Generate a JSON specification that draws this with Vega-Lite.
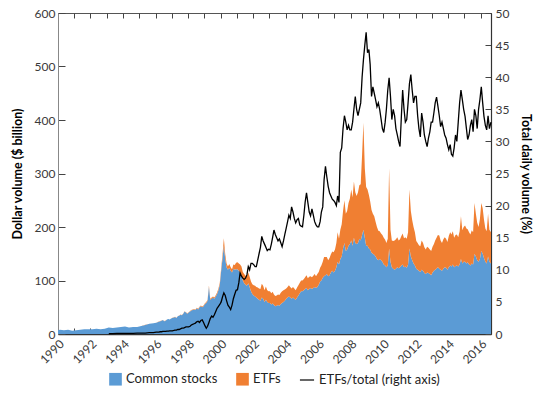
{
  "$schema": "https://vega.github.io/schema/vega-lite/v6.json",
  "width": 433,
  "height": 321,
  "autosize": {"type": "none"},
  "padding": {"left": 58, "top": 13, "right": 42, "bottom": 62},
  "background": "white",
  "config": {
    "font": "Lato",
    "view": {"stroke": "#555555", "strokeWidth": 1},
    "axis": {"labelFont": "Lato", "labelFontSize": 12, "labelColor": "#3a3a3a", "titleFont": "Lato", "titleFontSize": 12.5, "titleFontWeight": "bold", "titleColor": "#000000", "grid": false, "tickColor": "#444444", "domainColor": "#555555"},
    "legend": {"orient": "bottom", "labelFont": "Lato", "labelFontSize": 13, "labelColor": "#222222", "offset": 6, "columnPadding": 18,
      "layout": {"bottom": {"anchor": "middle", "direction": "horizontal", "center": true, "margin": 18}}}
  },
  "data": {"values": [
    {"d":"1990-01-01","Common stocks":7,"ETFs":0},
    {"d":"1990-02-15","Common stocks":8,"ETFs":0},
    {"d":"1990-05-15","Common stocks":7,"ETFs":0},
    {"d":"1990-08-15","Common stocks":8,"ETFs":0},
    {"d":"1990-11-15","Common stocks":6,"ETFs":0},
    {"d":"1991-02-15","Common stocks":7,"ETFs":0},
    {"d":"1991-05-15","Common stocks":8,"ETFs":0},
    {"d":"1991-08-15","Common stocks":9,"ETFs":0},
    {"d":"1991-11-15","Common stocks":9,"ETFs":0},
    {"d":"1992-02-15","Common stocks":9,"ETFs":0},
    {"d":"1992-05-15","Common stocks":10,"ETFs":0},
    {"d":"1992-08-15","Common stocks":9,"ETFs":0},
    {"d":"1992-11-15","Common stocks":10,"ETFs":0},
    {"d":"1993-02-15","Common stocks":12,"ETFs":0.05,"r":0.05},
    {"d":"1993-05-15","Common stocks":11,"ETFs":0.05,"r":0.05},
    {"d":"1993-08-15","Common stocks":12,"ETFs":0.05,"r":0.1},
    {"d":"1993-11-15","Common stocks":13,"ETFs":0.05,"r":0.1},
    {"d":"1994-02-15","Common stocks":14,"ETFs":0.1,"r":0.1},
    {"d":"1994-05-15","Common stocks":12,"ETFs":0.1,"r":0.1},
    {"d":"1994-08-15","Common stocks":13,"ETFs":0.1,"r":0.1},
    {"d":"1994-11-15","Common stocks":13,"ETFs":0.1,"r":0.15},
    {"d":"1995-02-15","Common stocks":15,"ETFs":0.15,"r":0.15},
    {"d":"1995-05-15","Common stocks":17,"ETFs":0.15,"r":0.15},
    {"d":"1995-08-15","Common stocks":19,"ETFs":0.15,"r":0.2},
    {"d":"1995-11-15","Common stocks":20,"ETFs":0.15,"r":0.2},
    {"d":"1996-01-15","Common stocks":21,"ETFs":0.2,"r":0.3},
    {"d":"1996-02-15","Common stocks":22,"ETFs":0.2,"r":0.3},
    {"d":"1996-03-15","Common stocks":23,"ETFs":0.2,"r":0.3},
    {"d":"1996-04-15","Common stocks":24,"ETFs":0.2,"r":0.35},
    {"d":"1996-05-15","Common stocks":25,"ETFs":0.2,"r":0.35},
    {"d":"1996-06-15","Common stocks":26,"ETFs":0.2,"r":0.4},
    {"d":"1996-07-15","Common stocks":24,"ETFs":0.2,"r":0.4},
    {"d":"1996-08-15","Common stocks":25,"ETFs":0.2,"r":0.4},
    {"d":"1996-09-15","Common stocks":27,"ETFs":0.2,"r":0.45},
    {"d":"1996-10-15","Common stocks":28,"ETFs":0.2,"r":0.45},
    {"d":"1996-11-15","Common stocks":27,"ETFs":0.2,"r":0.5},
    {"d":"1996-12-15","Common stocks":29,"ETFs":0.2,"r":0.5},
    {"d":"1997-01-15","Common stocks":30,"ETFs":0.3,"r":0.5},
    {"d":"1997-02-15","Common stocks":31,"ETFs":0.3,"r":0.55},
    {"d":"1997-03-15","Common stocks":32,"ETFs":0.3,"r":0.6},
    {"d":"1997-04-15","Common stocks":30,"ETFs":0.4,"r":0.6},
    {"d":"1997-05-15","Common stocks":33,"ETFs":0.4,"r":0.7},
    {"d":"1997-06-15","Common stocks":34,"ETFs":0.4,"r":0.7},
    {"d":"1997-07-15","Common stocks":36,"ETFs":0.5,"r":0.8},
    {"d":"1997-08-15","Common stocks":35,"ETFs":0.5,"r":0.9},
    {"d":"1997-09-15","Common stocks":38,"ETFs":0.5,"r":0.9},
    {"d":"1997-10-15","Common stocks":42,"ETFs":0.6,"r":1.0},
    {"d":"1997-11-15","Common stocks":40,"ETFs":0.6,"r":1.1},
    {"d":"1997-12-15","Common stocks":38,"ETFs":0.6,"r":1.1},
    {"d":"1998-01-15","Common stocks":40,"ETFs":0.7,"r":1.1},
    {"d":"1998-02-15","Common stocks":42,"ETFs":0.8,"r":1.2},
    {"d":"1998-03-15","Common stocks":44,"ETFs":0.8,"r":1.4},
    {"d":"1998-04-15","Common stocks":45,"ETFs":0.9,"r":1.5},
    {"d":"1998-05-15","Common stocks":46,"ETFs":0.9,"r":1.6},
    {"d":"1998-06-15","Common stocks":45,"ETFs":1.0,"r":1.7},
    {"d":"1998-07-15","Common stocks":48,"ETFs":1.0,"r":1.9},
    {"d":"1998-08-15","Common stocks":46,"ETFs":1.1,"r":2.0},
    {"d":"1998-09-15","Common stocks":50,"ETFs":1.1,"r":1.8},
    {"d":"1998-10-15","Common stocks":52,"ETFs":1.2,"r":2.1},
    {"d":"1998-11-15","Common stocks":50,"ETFs":1.2,"r":2.2},
    {"d":"1998-12-15","Common stocks":52,"ETFs":1.3,"r":1.8},
    {"d":"1999-01-15","Common stocks":56,"ETFs":1.5,"r":1.3},
    {"d":"1999-02-15","Common stocks":58,"ETFs":1.6,"r":0.9},
    {"d":"1999-03-15","Common stocks":62,"ETFs":1.8,"r":1.2},
    {"d":"1999-04-15","Common stocks":88,"ETFs":2.5,"r":1.8},
    {"d":"1999-05-15","Common stocks":64,"ETFs":2.0,"r":2.4},
    {"d":"1999-06-15","Common stocks":66,"ETFs":2.2,"r":2.8},
    {"d":"1999-07-15","Common stocks":68,"ETFs":2.3,"r":2.6},
    {"d":"1999-08-15","Common stocks":66,"ETFs":2.4,"r":3.0},
    {"d":"1999-09-15","Common stocks":70,"ETFs":2.5,"r":3.5},
    {"d":"1999-10-15","Common stocks":75,"ETFs":2.8,"r":4.0},
    {"d":"1999-11-15","Common stocks":82,"ETFs":3.0,"r":4.3},
    {"d":"1999-12-15","Common stocks":92,"ETFs":4.0,"r":4.6},
    {"d":"2000-01-15","Common stocks":118,"ETFs":5,"r":5.0},
    {"d":"2000-02-15","Common stocks":142,"ETFs":7,"r":5.8},
    {"d":"2000-03-15","Common stocks":165,"ETFs":14,"r":6.4},
    {"d":"2000-04-15","Common stocks":140,"ETFs":9,"r":6.0},
    {"d":"2000-05-15","Common stocks":125,"ETFs":7,"r":5.2},
    {"d":"2000-06-15","Common stocks":120,"ETFs":6,"r":4.5},
    {"d":"2000-07-15","Common stocks":124,"ETFs":7,"r":4.2},
    {"d":"2000-08-15","Common stocks":118,"ETFs":7,"r":3.8},
    {"d":"2000-09-15","Common stocks":115,"ETFs":6,"r":4.5},
    {"d":"2000-10-15","Common stocks":122,"ETFs":8,"r":5.5},
    {"d":"2000-11-15","Common stocks":120,"ETFs":9,"r":6.2},
    {"d":"2000-12-15","Common stocks":121,"ETFs":12,"r":6.8},
    {"d":"2001-01-15","Common stocks":121,"ETFs":13,"r":6.9},
    {"d":"2001-02-15","Common stocks":118,"ETFs":14,"r":8.0},
    {"d":"2001-03-15","Common stocks":115,"ETFs":15,"r":9.5},
    {"d":"2001-04-15","Common stocks":110,"ETFs":16,"r":9.0},
    {"d":"2001-05-15","Common stocks":100,"ETFs":16,"r":8.7},
    {"d":"2001-06-15","Common stocks":95,"ETFs":17,"r":8.5},
    {"d":"2001-07-15","Common stocks":92,"ETFs":17,"r":8.7},
    {"d":"2001-08-15","Common stocks":90,"ETFs":18,"r":9.2},
    {"d":"2001-09-15","Common stocks":95,"ETFs":20,"r":10.5},
    {"d":"2001-10-15","Common stocks":88,"ETFs":19,"r":10.0},
    {"d":"2001-11-15","Common stocks":80,"ETFs":18,"r":11.0},
    {"d":"2001-12-15","Common stocks":75,"ETFs":18,"r":11.0},
    {"d":"2002-01-15","Common stocks":72,"ETFs":19,"r":10.8},
    {"d":"2002-02-15","Common stocks":70,"ETFs":20,"r":10.5},
    {"d":"2002-03-15","Common stocks":68,"ETFs":20,"r":10.5},
    {"d":"2002-04-15","Common stocks":66,"ETFs":21,"r":11.5},
    {"d":"2002-05-15","Common stocks":64,"ETFs":21,"r":12.5},
    {"d":"2002-06-15","Common stocks":62,"ETFs":22,"r":13.5},
    {"d":"2002-07-15","Common stocks":68,"ETFs":26,"r":15.2},
    {"d":"2002-08-15","Common stocks":66,"ETFs":24,"r":14.5},
    {"d":"2002-09-15","Common stocks":60,"ETFs":22,"r":14.0},
    {"d":"2002-10-15","Common stocks":64,"ETFs":25,"r":13.5},
    {"d":"2002-11-15","Common stocks":60,"ETFs":22,"r":13.0},
    {"d":"2002-12-15","Common stocks":58,"ETFs":22,"r":13.2},
    {"d":"2003-01-15","Common stocks":58,"ETFs":22,"r":13.1},
    {"d":"2003-02-15","Common stocks":55,"ETFs":21,"r":14.0},
    {"d":"2003-03-15","Common stocks":57,"ETFs":22,"r":15.0},
    {"d":"2003-04-15","Common stocks":54,"ETFs":20,"r":16.2},
    {"d":"2003-05-15","Common stocks":52,"ETFs":19,"r":15.5},
    {"d":"2003-06-15","Common stocks":53,"ETFs":19,"r":15.0},
    {"d":"2003-07-15","Common stocks":54,"ETFs":20,"r":14.5},
    {"d":"2003-08-15","Common stocks":53,"ETFs":20,"r":14.8},
    {"d":"2003-09-15","Common stocks":56,"ETFs":21,"r":14.2},
    {"d":"2003-10-15","Common stocks":58,"ETFs":22,"r":13.6},
    {"d":"2003-11-15","Common stocks":60,"ETFs":22,"r":14.5},
    {"d":"2003-12-15","Common stocks":62,"ETFs":21,"r":15.5},
    {"d":"2004-01-15","Common stocks":66,"ETFs":19,"r":16.5},
    {"d":"2004-02-15","Common stocks":68,"ETFs":20,"r":17.5},
    {"d":"2004-03-15","Common stocks":70,"ETFs":21,"r":18.5},
    {"d":"2004-04-15","Common stocks":68,"ETFs":20,"r":18.0},
    {"d":"2004-05-15","Common stocks":66,"ETFs":19,"r":19.8},
    {"d":"2004-06-15","Common stocks":68,"ETFs":20,"r":19.0},
    {"d":"2004-07-15","Common stocks":66,"ETFs":19,"r":18.0},
    {"d":"2004-08-15","Common stocks":64,"ETFs":18,"r":17.3},
    {"d":"2004-09-15","Common stocks":68,"ETFs":19,"r":17.8},
    {"d":"2004-10-15","Common stocks":72,"ETFs":19,"r":18.0},
    {"d":"2004-11-15","Common stocks":76,"ETFs":20,"r":17.0},
    {"d":"2004-12-15","Common stocks":80,"ETFs":20,"r":16.8},
    {"d":"2005-01-15","Common stocks":80,"ETFs":20,"r":16.7},
    {"d":"2005-02-15","Common stocks":82,"ETFs":21,"r":18.5},
    {"d":"2005-03-15","Common stocks":84,"ETFs":22,"r":20.5},
    {"d":"2005-04-15","Common stocks":86,"ETFs":24,"r":22.0},
    {"d":"2005-05-15","Common stocks":82,"ETFs":22,"r":20.5},
    {"d":"2005-06-15","Common stocks":84,"ETFs":23,"r":19.0},
    {"d":"2005-07-15","Common stocks":86,"ETFs":22,"r":18.4},
    {"d":"2005-08-15","Common stocks":84,"ETFs":22,"r":19.5},
    {"d":"2005-09-15","Common stocks":86,"ETFs":23,"r":18.5},
    {"d":"2005-10-15","Common stocks":88,"ETFs":24,"r":17.5},
    {"d":"2005-11-15","Common stocks":86,"ETFs":22,"r":17.0},
    {"d":"2005-12-15","Common stocks":88,"ETFs":24,"r":16.7},
    {"d":"2006-01-15","Common stocks":92,"ETFs":24,"r":16.7},
    {"d":"2006-02-15","Common stocks":98,"ETFs":26,"r":17.5},
    {"d":"2006-03-15","Common stocks":100,"ETFs":28,"r":19.0},
    {"d":"2006-04-15","Common stocks":105,"ETFs":30,"r":19.8},
    {"d":"2006-05-15","Common stocks":108,"ETFs":36,"r":24.0},
    {"d":"2006-06-15","Common stocks":110,"ETFs":34,"r":26.1},
    {"d":"2006-07-15","Common stocks":112,"ETFs":32,"r":24.5},
    {"d":"2006-08-15","Common stocks":108,"ETFs":30,"r":23.0},
    {"d":"2006-09-15","Common stocks":110,"ETFs":32,"r":22.0},
    {"d":"2006-10-15","Common stocks":115,"ETFs":34,"r":21.5},
    {"d":"2006-11-15","Common stocks":118,"ETFs":36,"r":21.0},
    {"d":"2006-12-15","Common stocks":115,"ETFs":38,"r":20.8},
    {"d":"2007-01-15","Common stocks":118,"ETFs":40,"r":20.5},
    {"d":"2007-02-15","Common stocks":125,"ETFs":45,"r":20.0},
    {"d":"2007-03-15","Common stocks":135,"ETFs":55,"r":21.5},
    {"d":"2007-04-15","Common stocks":130,"ETFs":48,"r":20.5},
    {"d":"2007-05-15","Common stocks":140,"ETFs":55,"r":28.3},
    {"d":"2007-06-15","Common stocks":145,"ETFs":60,"r":29.0},
    {"d":"2007-07-15","Common stocks":160,"ETFs":70,"r":32.0},
    {"d":"2007-08-15","Common stocks":170,"ETFs":80,"r":34.0},
    {"d":"2007-09-15","Common stocks":155,"ETFs":70,"r":33.0},
    {"d":"2007-10-15","Common stocks":158,"ETFs":72,"r":31.8},
    {"d":"2007-11-15","Common stocks":165,"ETFs":80,"r":32.5},
    {"d":"2007-12-15","Common stocks":168,"ETFs":85,"r":31.8},
    {"d":"2008-01-15","Common stocks":175,"ETFs":95,"r":31.8},
    {"d":"2008-02-15","Common stocks":165,"ETFs":90,"r":33.0},
    {"d":"2008-03-15","Common stocks":180,"ETFs":105,"r":35.0},
    {"d":"2008-04-15","Common stocks":170,"ETFs":95,"r":37.0},
    {"d":"2008-05-15","Common stocks":168,"ETFs":90,"r":35.0},
    {"d":"2008-06-15","Common stocks":170,"ETFs":95,"r":34.0},
    {"d":"2008-07-15","Common stocks":178,"ETFs":100,"r":35.0},
    {"d":"2008-08-15","Common stocks":175,"ETFs":105,"r":36.0},
    {"d":"2008-09-15","Common stocks":185,"ETFs":150,"r":40.0},
    {"d":"2008-10-15","Common stocks":195,"ETFs":200,"r":42.7},
    {"d":"2008-11-15","Common stocks":180,"ETFs":130,"r":45.0},
    {"d":"2008-12-15","Common stocks":165,"ETFs":110,"r":47.0},
    {"d":"2009-01-15","Common stocks":165,"ETFs":105,"r":43.8},
    {"d":"2009-02-15","Common stocks":160,"ETFs":100,"r":44.3},
    {"d":"2009-03-15","Common stocks":158,"ETFs":90,"r":42.0},
    {"d":"2009-04-15","Common stocks":152,"ETFs":80,"r":37.0},
    {"d":"2009-05-15","Common stocks":150,"ETFs":75,"r":38.5},
    {"d":"2009-06-15","Common stocks":148,"ETFs":72,"r":37.5},
    {"d":"2009-07-15","Common stocks":145,"ETFs":65,"r":36.5},
    {"d":"2009-08-15","Common stocks":140,"ETFs":60,"r":35.4},
    {"d":"2009-09-15","Common stocks":138,"ETFs":55,"r":36.0},
    {"d":"2009-10-15","Common stocks":140,"ETFs":52,"r":35.0},
    {"d":"2009-11-15","Common stocks":138,"ETFs":50,"r":33.5},
    {"d":"2009-12-15","Common stocks":135,"ETFs":50,"r":32.0},
    {"d":"2010-01-15","Common stocks":130,"ETFs":50,"r":31.4},
    {"d":"2010-02-15","Common stocks":128,"ETFs":48,"r":33.0},
    {"d":"2010-03-15","Common stocks":125,"ETFs":45,"r":35.0},
    {"d":"2010-04-15","Common stocks":128,"ETFs":50,"r":38.0},
    {"d":"2010-05-15","Common stocks":160,"ETFs":150,"r":39.9},
    {"d":"2010-06-15","Common stocks":135,"ETFs":60,"r":37.0},
    {"d":"2010-07-15","Common stocks":125,"ETFs":50,"r":33.4},
    {"d":"2010-08-15","Common stocks":122,"ETFs":52,"r":35.0},
    {"d":"2010-09-15","Common stocks":120,"ETFs":55,"r":34.0},
    {"d":"2010-10-15","Common stocks":122,"ETFs":55,"r":32.0},
    {"d":"2010-11-15","Common stocks":125,"ETFs":56,"r":31.0},
    {"d":"2010-12-15","Common stocks":123,"ETFs":52,"r":30.0},
    {"d":"2011-01-15","Common stocks":125,"ETFs":52,"r":29.2},
    {"d":"2011-02-15","Common stocks":128,"ETFs":55,"r":34.0},
    {"d":"2011-03-15","Common stocks":130,"ETFs":58,"r":38.0},
    {"d":"2011-04-15","Common stocks":125,"ETFs":54,"r":35.0},
    {"d":"2011-05-15","Common stocks":126,"ETFs":55,"r":33.0},
    {"d":"2011-06-15","Common stocks":124,"ETFs":54,"r":33.4},
    {"d":"2011-07-15","Common stocks":130,"ETFs":60,"r":36.0},
    {"d":"2011-08-15","Common stocks":160,"ETFs":110,"r":39.0},
    {"d":"2011-09-15","Common stocks":145,"ETFs":85,"r":40.4},
    {"d":"2011-10-15","Common stocks":138,"ETFs":75,"r":38.0},
    {"d":"2011-11-15","Common stocks":132,"ETFs":68,"r":36.0},
    {"d":"2011-12-15","Common stocks":128,"ETFs":62,"r":37.0},
    {"d":"2012-01-15","Common stocks":122,"ETFs":52,"r":37.0},
    {"d":"2012-02-15","Common stocks":120,"ETFs":50,"r":34.0},
    {"d":"2012-03-15","Common stocks":118,"ETFs":48,"r":32.0},
    {"d":"2012-04-15","Common stocks":116,"ETFs":48,"r":30.7},
    {"d":"2012-05-15","Common stocks":120,"ETFs":55,"r":34.4},
    {"d":"2012-06-15","Common stocks":118,"ETFs":52,"r":33.0},
    {"d":"2012-07-15","Common stocks":114,"ETFs":48,"r":31.0},
    {"d":"2012-08-15","Common stocks":112,"ETFs":46,"r":30.0},
    {"d":"2012-09-15","Common stocks":115,"ETFs":48,"r":29.2},
    {"d":"2012-10-15","Common stocks":114,"ETFs":47,"r":30.5},
    {"d":"2012-11-15","Common stocks":112,"ETFs":46,"r":31.5},
    {"d":"2012-12-15","Common stocks":110,"ETFs":45,"r":33.0},
    {"d":"2013-01-15","Common stocks":115,"ETFs":48,"r":33.0},
    {"d":"2013-02-15","Common stocks":118,"ETFs":50,"r":34.5},
    {"d":"2013-03-15","Common stocks":120,"ETFs":55,"r":36.0},
    {"d":"2013-04-15","Common stocks":122,"ETFs":58,"r":36.9},
    {"d":"2013-05-15","Common stocks":125,"ETFs":60,"r":35.5},
    {"d":"2013-06-15","Common stocks":122,"ETFs":62,"r":34.0},
    {"d":"2013-07-15","Common stocks":120,"ETFs":55,"r":32.3},
    {"d":"2013-08-15","Common stocks":118,"ETFs":52,"r":33.0},
    {"d":"2013-09-15","Common stocks":122,"ETFs":55,"r":32.0},
    {"d":"2013-10-15","Common stocks":125,"ETFs":56,"r":31.0},
    {"d":"2013-11-15","Common stocks":124,"ETFs":54,"r":30.5},
    {"d":"2013-12-15","Common stocks":120,"ETFs":52,"r":29.5},
    {"d":"2014-01-15","Common stocks":125,"ETFs":58,"r":28.7},
    {"d":"2014-02-15","Common stocks":128,"ETFs":62,"r":29.5},
    {"d":"2014-03-15","Common stocks":126,"ETFs":60,"r":28.0},
    {"d":"2014-04-15","Common stocks":130,"ETFs":62,"r":27.7},
    {"d":"2014-05-15","Common stocks":125,"ETFs":55,"r":29.0},
    {"d":"2014-06-15","Common stocks":127,"ETFs":58,"r":31.0},
    {"d":"2014-07-15","Common stocks":128,"ETFs":58,"r":30.0},
    {"d":"2014-08-15","Common stocks":126,"ETFs":55,"r":33.0},
    {"d":"2014-09-15","Common stocks":130,"ETFs":62,"r":36.0},
    {"d":"2014-10-15","Common stocks":140,"ETFs":80,"r":38.0},
    {"d":"2014-11-15","Common stocks":132,"ETFs":62,"r":36.5},
    {"d":"2014-12-15","Common stocks":135,"ETFs":65,"r":35.0},
    {"d":"2015-01-15","Common stocks":135,"ETFs":68,"r":33.9},
    {"d":"2015-02-15","Common stocks":132,"ETFs":65,"r":32.0},
    {"d":"2015-03-15","Common stocks":134,"ETFs":62,"r":30.3},
    {"d":"2015-04-15","Common stocks":130,"ETFs":60,"r":31.0},
    {"d":"2015-05-15","Common stocks":128,"ETFs":58,"r":32.5},
    {"d":"2015-06-15","Common stocks":132,"ETFs":62,"r":33.4},
    {"d":"2015-07-15","Common stocks":130,"ETFs":60,"r":31.5},
    {"d":"2015-08-15","Common stocks":150,"ETFs":95,"r":35.0},
    {"d":"2015-09-15","Common stocks":145,"ETFs":80,"r":34.0},
    {"d":"2015-10-15","Common stocks":138,"ETFs":70,"r":32.0},
    {"d":"2015-11-15","Common stocks":135,"ETFs":65,"r":35.0},
    {"d":"2015-12-15","Common stocks":140,"ETFs":75,"r":36.5},
    {"d":"2016-01-15","Common stocks":155,"ETFs":90,"r":38.5},
    {"d":"2016-02-15","Common stocks":150,"ETFs":85,"r":36.0},
    {"d":"2016-03-15","Common stocks":142,"ETFs":72,"r":33.9},
    {"d":"2016-04-15","Common stocks":135,"ETFs":62,"r":32.5},
    {"d":"2016-05-15","Common stocks":132,"ETFs":60,"r":31.8},
    {"d":"2016-06-15","Common stocks":145,"ETFs":80,"r":34.0},
    {"d":"2016-07-15","Common stocks":135,"ETFs":60,"r":32.0},
    {"d":"2016-08-20","Common stocks":132,"ETFs":58,"r":33.0}
  ]},
  "resolve": {"scale": {"y": "independent"}, "axis": {"x": "independent"}},
  "layer": [
    {
      "transform": [{"fold": ["Common stocks", "ETFs"], "as": ["series", "v"]}],
      "mark": {"type": "area", "interpolate": "linear"},
      "encoding": {
        "x": {"field": "d", "type": "temporal",
          "scale": {"domain": ["1990-01-01", "2016-08-20"]},
          "axis": {"title": null, "orient": "bottom", "tickCount": {"interval": "year", "step": 1}, "labelExpr": "year(datum.value) % 2 == 0 ? timeFormat(datum.value, '%Y') : ''", "labelAngle": -45, "tickSize": -6, "labelPadding": 10, "domainColor": "#333333", "domainWidth": 1.5, "labelFlush": false, "labelOverlap": false}},
        "y": {"field": "v", "type": "quantitative", "stack": "zero",
          "scale": {"domain": [0, 600], "nice": false},
          "axis": {"title": "Dollar volume ($ billion)", "values": [0, 100, 200, 300, 400, 500, 600], "tickSize": -7, "labelPadding": 10, "titlePadding": 10, "domainColor": "#888888"}},
        "color": {"field": "series", "type": "nominal",
          "scale": {"domain": ["Common stocks", "ETFs"], "range": ["#5b9bd5", "#f07f32"]},
          "legend": {"title": null, "symbolType": "square", "symbolSize": 160, "symbolStrokeWidth": 0}},
        "order": {"field": "series", "sort": "ascending"}
      }
    },
    {
      "mark": {"type": "line", "strokeWidth": 1.3},
      "encoding": {
        "x": {"field": "d", "type": "temporal",
          "axis": {"title": null, "orient": "top", "labels": false, "tickCount": {"interval": "year", "step": 1}, "tickSize": -5, "domain": false}},
        "y": {"field": "r", "type": "quantitative",
          "scale": {"domain": [0, 50], "nice": false},
          "axis": {"title": "Total daily volume (%)", "orient": "right", "values": [0, 5, 10, 15, 20, 25, 30, 35, 40, 45, 50], "tickSize": -6, "labelPadding": 10, "titlePadding": 10, "domainColor": "#333333", "domainWidth": 1.2}},
        "stroke": {"datum": "ETFs/total (right axis)", "type": "nominal",
          "scale": {"range": ["#000000"]},
          "legend": {"title": null, "symbolType": "stroke", "symbolSize": 200, "symbolStrokeWidth": 1.2}}
      }
    }
  ]
}
